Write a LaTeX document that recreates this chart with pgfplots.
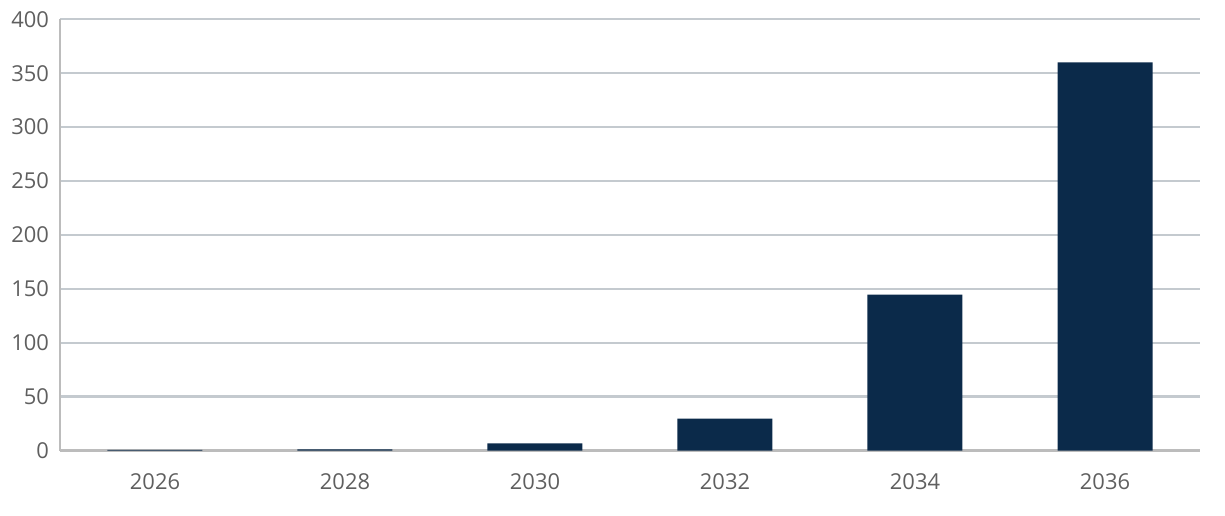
\documentclass[border=0pt]{standalone}
\usepackage{pgfplots}
\pgfplotsset{compat=1.18}
\usepackage{fontspec}
\setmainfont{Open Sans}
\definecolor{barblue}{RGB}{11,42,74}
\definecolor{gridc}{RGB}{196,202,207}
\definecolor{axisc}{RGB}{188,188,188}
\definecolor{labc}{RGB}{95,95,95}
\begin{document}
\begin{tikzpicture}[x=1bp,y=1bp]
\begin{axis}[
  at={(0,0)}, anchor=south west,
  scale only axis,
  width=570bp, height=215.6bp,
  xmin=-0.5, xmax=5.5,
  ymin=0, ymax=400,
  ytick={0,50,...,400},
  xtick={0,1,2,3,4,5},
  xticklabels={2026,2028,2030,2032,2034,2036},
  axis x line*=bottom, axis y line*=left,
  axis line style={axisc, line width=1.1bp, -},
  ymajorgrids, grid style={gridc, line width=1.1bp},
  major tick length=0pt,
  tick style={draw=none},
  ticklabel style={font=\fontsize{11}{13}\selectfont, text=labc},
  /pgf/number format/assume math mode=true,
  yticklabel style={xshift=-2bp},
  xticklabel style={yshift=-8bp},
  clip=false,
]
\addplot[ybar, bar width=0.5, fill=barblue, draw=none, bar shift=0pt]
  coordinates {(0,0.5) (1,1) (2,6.5) (3,29.5) (4,144.5) (5,360)};
\end{axis}
\pgfresetboundingbox
\path (-30bp,-32.75bp) rectangle (582.5bp,225.25bp);
\end{tikzpicture}
\end{document}
